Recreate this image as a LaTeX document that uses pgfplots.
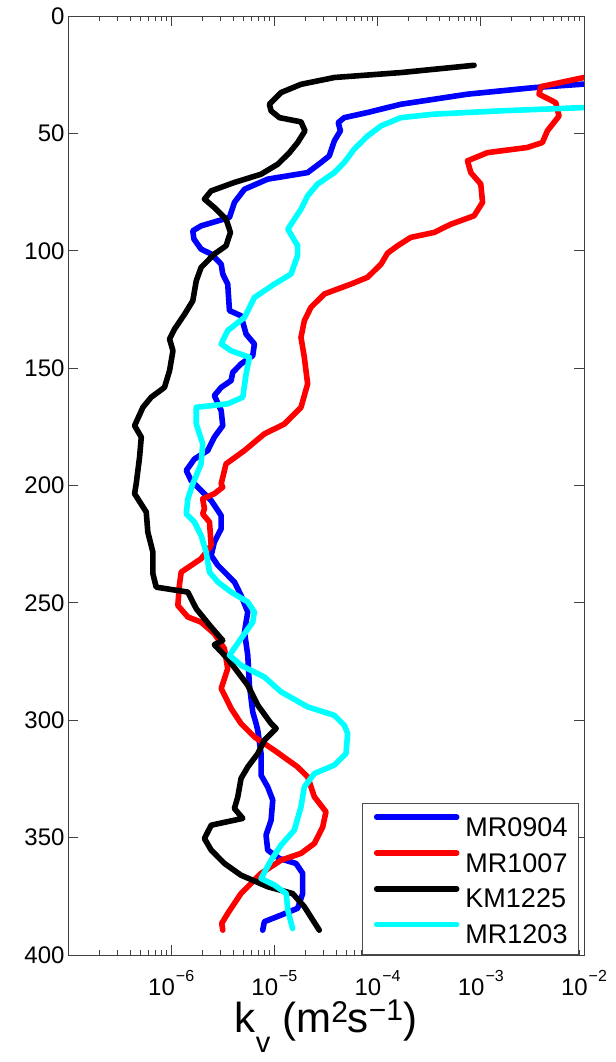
\documentclass[border=0pt]{standalone}
\usepackage{fontspec}
\setmainfont{Liberation Sans}
\usepackage{pgfplots}
\pgfplotsset{compat=1.18}
\definecolor{mblue}{RGB}{0,0,255}
\definecolor{mred}{RGB}{255,0,0}
\definecolor{mcyan}{RGB}{0,255,255}
\newcommand{\ex}[1]{10\hspace{1bp}\raisebox{14bp}{\fontsize{16bp}{16bp}\selectfont #1}}
\begin{document}
\begin{tikzpicture}
\path[use as bounding box] (0,0) rectangle (616bp,1062bp);
\begin{axis}[
  at={(68bp,107bp)}, anchor=south west,
  scale only axis, width=516bp, height=939bp,
  xmode=log, xmin=1e-7, xmax=1e-2,
  ymin=0, ymax=400, y dir=reverse,
  ytick={0,50,100,150,200,250,300,350,400},
  xtick={1e-6,1e-5,1e-4,1e-3,1e-2},
  xticklabels={\ex{−6},\ex{−5},\ex{−4},\ex{−3},\ex{−2}},
  minor xtick={2e-7,3e-7,4e-7,5e-7,6e-7,7e-7,8e-7,9e-7,
    2e-6,3e-6,4e-6,5e-6,6e-6,7e-6,8e-6,9e-6,
    2e-5,3e-5,4e-5,5e-5,6e-5,7e-5,8e-5,9e-5,
    2e-4,3e-4,4e-4,5e-4,6e-4,7e-4,8e-4,9e-4,
    2e-3,3e-3,4e-3,5e-3,6e-3,7e-3,8e-3,9e-3},
  /pgf/number format/assume math mode=true,
  tick label style={font=\fontsize{24bp}{28bp}\selectfont, text=black},
  xticklabel style={anchor=base, yshift=-40bp},
  major tick length=10bp, minor tick length=5bp,
  tick style={black!75, line width=0.8bp},
  axis line style={black!75, line width=0.9bp},
  xlabel={k\raisebox{-20bp}{\fontsize{29bp}{29bp}\selectfont v}\hspace{12bp}(m\raisebox{10bp}{\fontsize{30bp}{30bp}\selectfont 2}s\raisebox{12bp}{\fontsize{30bp}{30bp}\selectfont −1})},
  xlabel style={font=\fontsize{42bp}{50bp}\selectfont, at={(axis description cs:0.5,0)}, anchor=base, yshift=-77bp},
  legend cell align=left,
  legend style={at={(axis description cs:0.9903,0.1619)}, anchor=north east,
    draw=black!70, line width=0.9bp, fill=white,
    font=\fontsize{27bp}{30bp}\selectfont,
    inner sep=11bp, row sep=14bp, column sep=6bp,
    nodes={inner sep=0pt, text height=19bp, text depth=0bp}},
  legend image code/.code={\draw[#1] (0bp,9.5bp) -- (80bp,9.5bp);},
  every axis plot/.append style={line width=5.6bp, line join=round, line cap=round},
]
\addplot[color=mblue] coordinates {
(1.2e-2,28.5)(1.0e-2,29)(3.28e-3,30.5)(7.43e-4,33.3)(1.68e-4,37.6)(8.00e-5,41.1)(4.75e-5,43.3)(4.16e-5,45.4)(4.36e-5,48.9)(3.81e-5,53.2)(3.40e-5,59.6)(2.83e-5,62.4)(2.10e-5,66.7)(8.61e-6,69.5)(5.13e-6,73.8)(4.10e-6,79.4)(3.67e-6,85.8)(1.95e-6,89.4)(1.62e-6,91.5)(1.66e-6,95)(1.95e-6,99.3)(2.44e-6,101.4)(3.05e-6,105.7)(3.16e-6,109.9)(3.53e-6,114.2)(3.67e-6,125.5)(4.75e-6,127.7)(5.32e-6,135.5)(6.40e-6,139.7)(6.17e-6,144.7)(4.75e-6,148.2)(3.95e-6,151.8)(3.81e-6,155.3)(3.05e-6,158.2)(2.62e-6,161.7)(3.05e-6,168.1)(3.16e-6,174.5)(2.62e-6,179.4)(2.26e-6,185.1)(1.68e-6,188.7)(1.40e-6,193.6)(1.56e-6,197.9)(1.81e-6,200.7)(2.44e-6,206.4)(3.05e-6,212.8)(3.05e-6,218.4)(2.62e-6,224.1)(2.44e-6,229.8)(2.83e-6,234)(4.10e-6,241.1)(4.75e-6,246.8)(5.52e-6,253.9)(5.13e-6,262.4)(5.52e-6,272.3)(5.73e-6,285.1)(6.17e-6,296.5)(6.65e-6,301.4)(6.90e-6,304.3)(7.43e-6,314.2)(7.43e-6,323.4)(8.61e-6,328.4)(9.64e-6,334)(9.29e-6,342.6)(8.30e-6,348.9)(8.61e-6,355.3)(1.12e-5,358.9)(1.62e-5,361)(1.88e-5,365.2)(1.88e-5,373.8)(1.68e-5,380.1)(1.16e-5,383)(8.00e-6,385.8)(7.71e-6,389.4)
};
\addlegendentry{MR0904}
\addplot[color=mred] coordinates {
(1.3e-2,25.5)(1.0e-2,26.2)(3.81e-3,30.1)(3.67e-3,33.3)(5.32e-3,36.9)(5.73e-3,42.6)(4.42e-3,48.9)(3.95e-3,53.9)(2.83e-3,56)(1.16e-3,58.2)(7.43e-4,61.7)(8.00e-4,66.7)(1.00e-3,71.6)(1.04e-3,79.4)(8.61e-4,85.1)(5.13e-4,88.7)(3.53e-4,92.2)(2.10e-4,94.3)(1.56e-4,97.9)(1.25e-4,101)(1.08e-4,105.7)(8.00e-5,111.3)(5.52e-5,114.2)(3.05e-5,118.4)(2.26e-5,124.1)(1.95e-5,129.8)(1.81e-5,136.9)(1.95e-5,145.4)(2.10e-5,156.7)(1.81e-5,166.7)(1.25e-5,173.8)(8.00e-6,178)(5.13e-6,185.1)(3.40e-6,190.8)(3.05e-6,199.3)(3.16e-6,200.7)(2.62e-6,203.5)(2.02e-6,205.7)(2.10e-6,209.9)(2.02e-6,212.1)(2.35e-6,215.6)(2.44e-6,225.5)(1.95e-6,231.2)(1.25e-6,236.9)(1.20e-6,242.6)(1.16e-6,251.1)(1.45e-6,256)(1.95e-6,258.2)(2.62e-6,263.1)(3.28e-6,269.5)(3.53e-6,278)(3.05e-6,286.5)(3.81e-6,295)(4.75e-6,301.4)(6.40e-6,307.1)(1.00e-5,312.8)(1.68e-5,319.9)(2.10e-5,324.1)(2.44e-5,332.6)(3.16e-5,339)(2.94e-5,345.4)(2.44e-5,352.5)(1.81e-5,356.7)(1.16e-5,359.6)(7.43e-6,365.2)(4.75e-6,373.8)(3.53e-6,382.3)(3.09e-6,386.5)(3.16e-6,389.4)
};
\addlegendentry{MR1007}
\addplot[color=black] coordinates {
(8.61e-4,21)(1.68e-4,24.1)(3.81e-5,26.2)(1.81e-5,29.1)(1.16e-5,32.6)(8.95e-6,37.6)(9.29e-6,40.4)(1.12e-5,43.3)(1.81e-5,45.1)(1.98e-5,48.9)(1.68e-5,53.9)(1.40e-5,58.2)(1.08e-5,63.1)(7.43e-6,67.4)(4.10e-6,70.9)(2.44e-6,74.5)(2.10e-6,78.0)(2.62e-6,81.6)(3.40e-6,86.5)(3.75e-6,92.2)(3.40e-6,97.9)(2.62e-6,101.4)(1.95e-6,107.1)(1.75e-6,112.8)(1.62e-6,121.3)(1.35e-6,127)(1.08e-6,133.3)(9.64e-7,137.6)(1.04e-6,142.6)(9.64e-7,151.1)(8.61e-7,158.2)(6.40e-7,162.4)(5.32e-7,166.7)(4.42e-7,174.5)(5.13e-7,179.4)(4.94e-7,187.9)(4.58e-7,199.3)(4.42e-7,203.5)(5.73e-7,211.3)(5.94e-7,219.9)(6.65e-7,228.4)(6.65e-7,237.6)(7.16e-7,243.3)(1.45e-6,245.4)(1.75e-6,252.5)(2.44e-6,260.3)(3.16e-6,266)(2.62e-6,267.8)(3.53e-6,273.8)(5.52e-6,285.1)(6.90e-6,293.6)(9.29e-6,301.4)(1.04e-5,303.5)(8.00e-6,308.5)(6.90e-6,314.2)(5.52e-6,319.9)(4.75e-6,324.8)(4.42e-6,332.6)(4.10e-6,337.6)(4.94e-6,341.8)(2.44e-6,344.7)(2.10e-6,350.4)(2.44e-6,355.3)(3.28e-6,361)(4.75e-6,366)(8.61e-6,370.9)(1.50e-5,373.8)(1.95e-5,379.4)(2.72e-5,389.4)
};
\addlegendentry{KM1225}
\addplot[color=mcyan] coordinates {
(1.2e-2,38.9)(1.0e-2,39)(1.56e-3,40.4)(3.53e-4,41.8)(1.68e-4,43.3)(1.08e-4,46.8)(8.00e-5,51.1)(5.94e-5,56.7)(4.75e-5,62.4)(3.81e-5,66.7)(2.62e-5,71.6)(2.10e-5,76.6)(1.81e-5,82.3)(1.35e-5,90.8)(1.68e-5,97.9)(1.68e-5,102)(1.45e-5,109.9)(1.00e-5,114.2)(6.40e-6,119.9)(5.13e-6,128.4)(3.53e-6,134)(3.05e-6,139.7)(3.81e-6,142.6)(5.73e-6,145.4)(5.32e-6,152.5)(4.94e-6,162.4)(3.53e-6,165.2)(1.75e-6,166.7)(1.75e-6,173.8)(2.02e-6,182.3)(1.95e-6,190.8)(1.62e-6,199.3)(1.45e-6,205.7)(1.40e-6,212.1)(1.68e-6,215.6)(1.95e-6,221.3)(2.18e-6,228.4)(2.35e-6,236.9)(2.83e-6,241.1)(3.81e-6,245.4)(5.52e-6,249.6)(6.40e-6,253.9)(6.17e-6,258.2)(4.75e-6,265.2)(3.67e-6,272.3)(4.75e-6,276.6)(8.00e-6,281.6)(1.16e-5,287.9)(2.10e-5,294.3)(3.81e-5,297.9)(4.75e-5,302.1)(5.13e-5,305.7)(4.94e-5,314.2)(3.81e-5,319.1)(2.44e-5,322.7)(1.95e-5,328.4)(1.81e-5,336.9)(1.56e-5,346.8)(1.16e-5,353.2)(9.29e-6,359.6)(7.43e-6,367.4)(1.00e-5,370.2)(1.30e-5,373.8)(1.35e-5,380.9)(1.50e-5,388.7)
};
\addlegendentry{MR1203}
\end{axis}
\end{tikzpicture}
\end{document}
